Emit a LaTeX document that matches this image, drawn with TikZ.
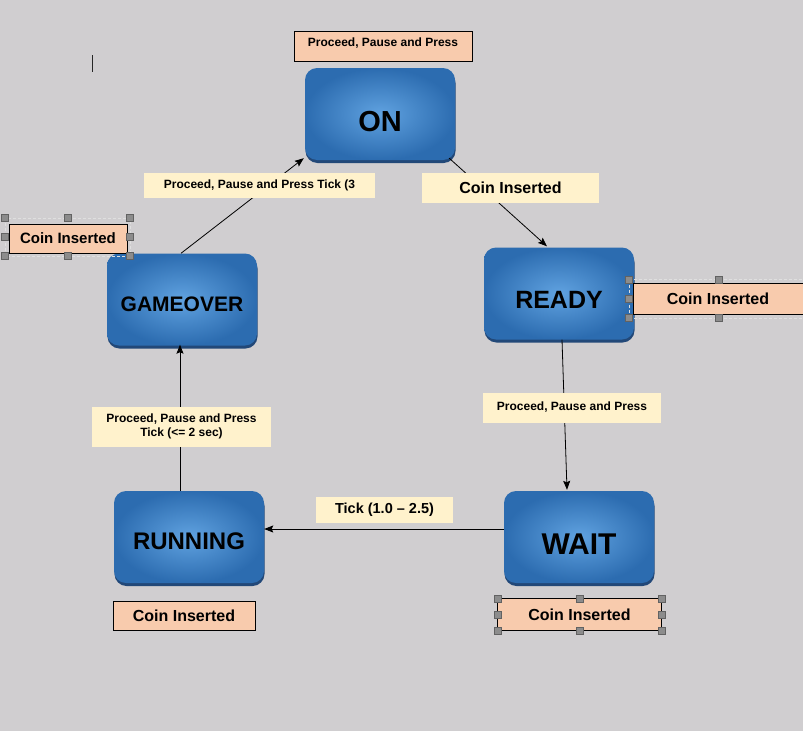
\documentclass[tikz,border=0pt]{standalone}
\usepackage{fontspec}
\setmainfont{Liberation Sans}
\usetikzlibrary{arrows.meta,shadows}
\definecolor{bgc}{RGB}{208,206,208}
\definecolor{stin}{RGB}{96,162,224}
\definecolor{stout}{RGB}{44,108,176}
\definecolor{stsh}{RGB}{34,72,120}
\definecolor{salmon}{RGB}{248,203,173}
\definecolor{cream}{RGB}{255,242,204}
\definecolor{hnd}{RGB}{140,140,140}
\begin{document}
\begin{tikzpicture}[x=1pt,y=-1pt,
  statebox/.style={rounded corners=12pt, minimum width=150pt, minimum height=92pt, inner sep=0pt,
    shading=radial, inner color=stin, outer color=stout,
    drop shadow={shadow xshift=0.5pt, shadow yshift=-3pt, fill=stsh, opacity=1}},
  stext/.style={font=\bfseries\fontsize{#1}{#1}\selectfont, inner sep=0pt},
  lab/.style={inner sep=0pt, align=center, font=\bfseries\fontsize{#1}{14}\selectfont},
  salm/.style={lab=#1, fill=salmon, draw=black, line width=0.8pt},
  crm/.style={lab=#1, fill=cream},
  arr/.style={draw=black, line width=0.8pt, -{Stealth[length=9pt,width=7pt,inset=1.5pt]}},
  selrect/.style={draw=white!75!gray, line width=0.6pt, densely dashed},
  handle/.style={fill=hnd, draw=hnd!70!black, line width=0.4pt}
]
\fill[bgc] (0,0) rectangle (803,731);
\useasboundingbox (0,0) rectangle (803,731);

% cursor mark
\draw[line width=1.5pt, black!85] (92.5,55) -- (92.5,72);

% states
\node[statebox] (ON) at (380,114) {};
\node[statebox] (READY) at (559,293.5) {};
\node[statebox] (GAMEOVER) at (182,299.5) {};
\node[statebox] (RUNNING) at (189,537) {};
\node[statebox] (WAIT) at (579,537) {};

\node[stext=29] (ONt) at (380,122) {ON};
\node[stext=25] (READYt) at (559,300) {READY};
\node[stext=21] (GAMEOVERt) at (182,304) {GAMEOVER};
\node[stext=24] (RUNNINGt) at (189,541) {RUNNING};
\node[stext=30] (WAITt) at (579,544) {WAIT};

% connectors
\draw[arr] ([shift={(-6,-2)}]ON.south east) -- ([shift={(-12,-1)}]READY.north);
\draw[arr] ([shift={(-1,0)}]GAMEOVER.north) -- ([shift={(-1,-2)}]ON.south west);
\draw[arr] ([shift={(3,0)}]READY.south) -- ([shift={(-12,-1)}]WAIT.north);
\draw[arr] ([shift={(0,-8)}]WAIT.west) -- ([shift={(0,-8)}]RUNNING.east);
\draw[arr] ([shift={(-9,0)}]RUNNING.north) -- ([shift={(-2,-1)}]GAMEOVER.south);

% transition labels
\node[crm=12, minimum width=231pt, minimum height=25pt] (lblGO) at (259.5,185.5) {Proceed, Pause and Press Tick (3};
\node[crm=16, minimum width=177pt, minimum height=30pt] (lblCoin) at (510.5,188) {Coin Inserted};
\node[crm=12, minimum width=178pt, minimum height=30pt, text height=8.6pt, text depth=3pt] (lblRW) at (572,408) {Proceed, Pause and Press};
\node[crm=12, minimum width=179pt, minimum height=40pt, text depth=3pt] (lblRG) at (181.5,427) {Proceed, Pause and Press\\Tick (<= 2 sec)};
\node[crm=14.5, minimum width=137pt, minimum height=26pt] (lblTick) at (384.5,510) {Tick (1.0 -- 2.5)};

% salmon notes
\node[salm=12, minimum width=178pt, minimum height=30pt, text height=8.6pt, text depth=8pt] (topL) at (383,46) {Proceed, Pause and Press};

\draw[selrect] (5,218) rectangle (130,256);
\node[salm=15, minimum width=118pt, minimum height=29pt] (coinL) at (68,238.5) {Coin Inserted};
\foreach \hx/\hy in {5/218,67.5/218,130/218,5/237,130/237,5/256,67.5/256,130/256}
  \filldraw[handle] (\hx-3.5,\hy-3.5) rectangle (\hx+3.5,\hy+3.5);

\draw[selrect] (629,279.5) -- (820,279.5) (629,318) -- (820,318) (629,279.5) -- (629,318);
\path[fill=salmon, draw=black, line width=0.8pt] (633,283.5) rectangle (820,314.5);
\node[lab=16] (coinR) at (718,299) {Coin Inserted};
\foreach \hx/\hy in {629/279.5,718.5/279.5,629/299,629/318,718.5/318}
  \filldraw[handle] (\hx-3.5,\hy-3.5) rectangle (\hx+3.5,\hy+3.5);

\node[salm=16, minimum width=142pt, minimum height=29pt] (coinRun) at (184,615.5) {Coin Inserted};

\node[salm=16, minimum width=164pt, minimum height=32pt] (coinW) at (579.5,614.5) {Coin Inserted};
\foreach \hx/\hy in {497.5/598.5,579.5/598.5,661.5/598.5,497.5/614.5,661.5/614.5,497.5/630.5,579.5/630.5,661.5/630.5}
  \filldraw[handle] (\hx-3.5,\hy-3.5) rectangle (\hx+3.5,\hy+3.5);
\end{tikzpicture}
\end{document}
